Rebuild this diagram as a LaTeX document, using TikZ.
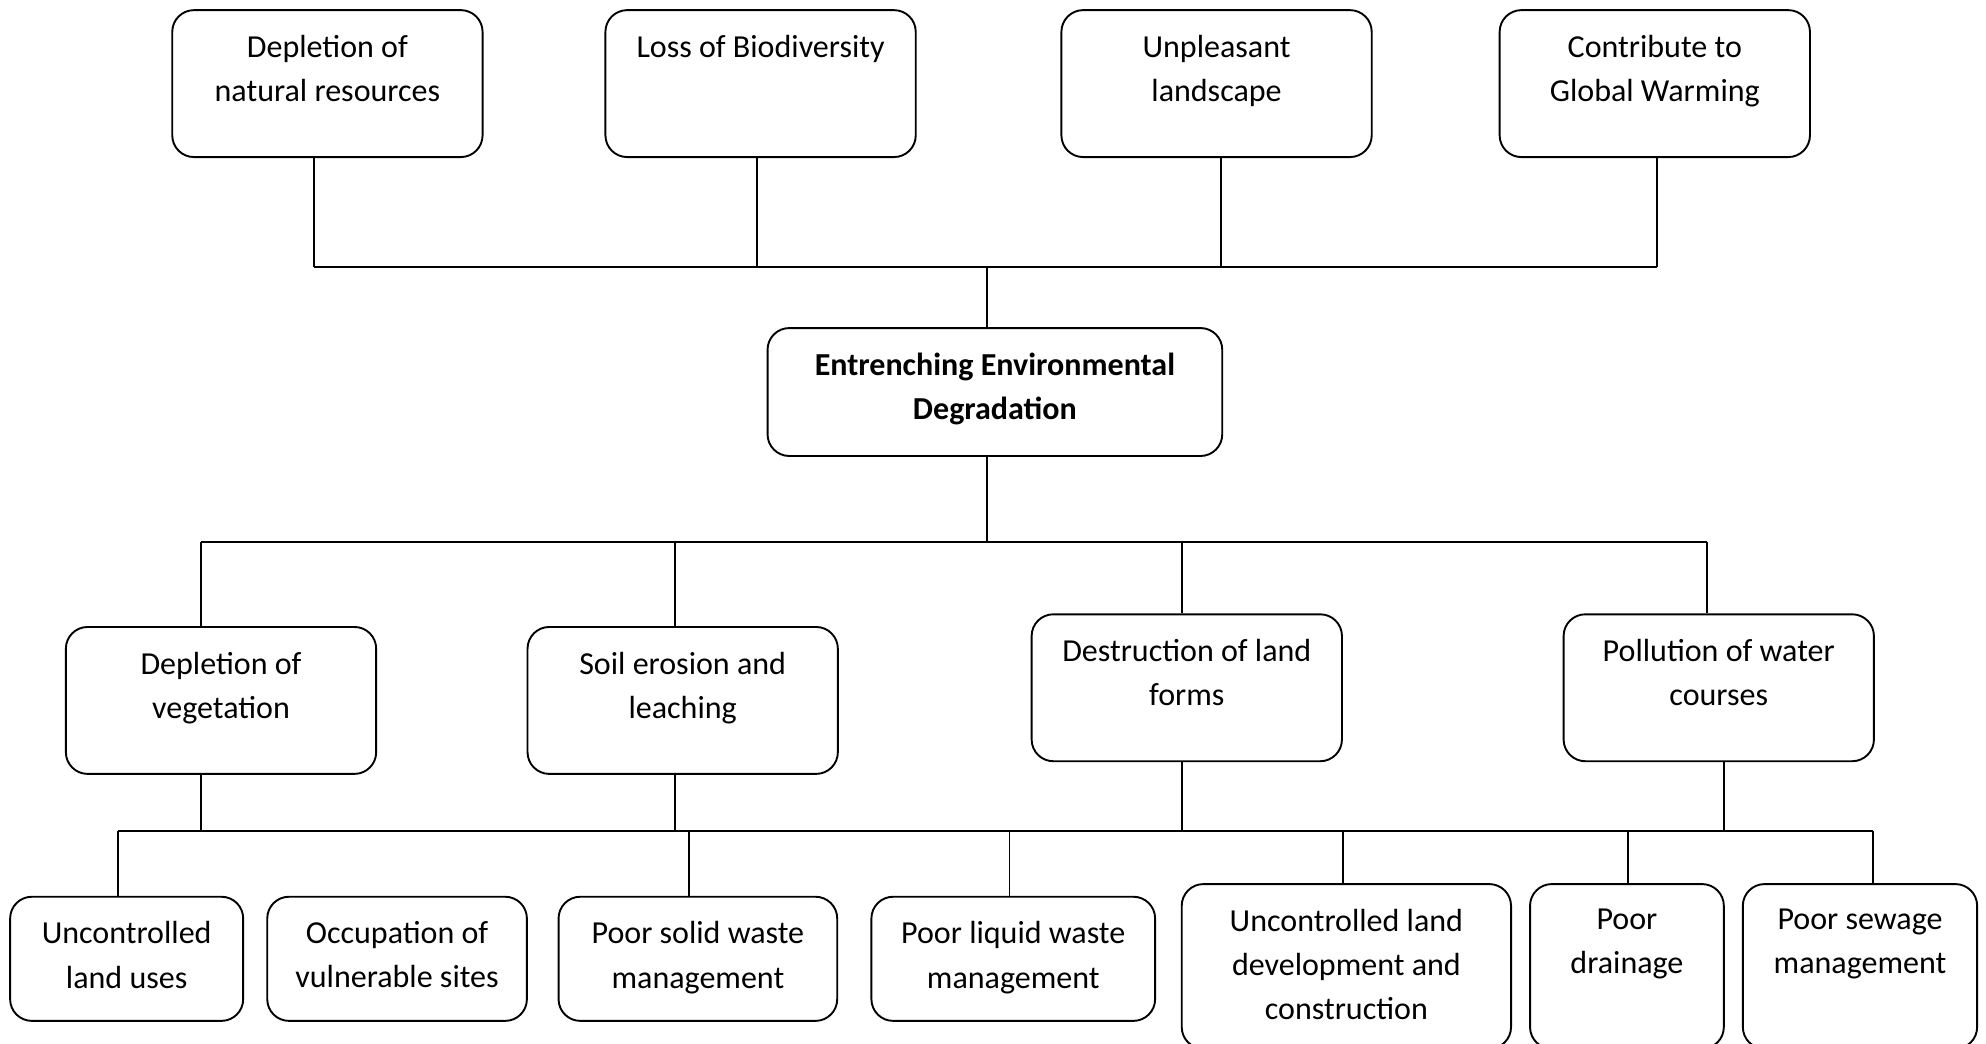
\documentclass[tikz,border=0pt]{standalone}
\usepackage{fontspec}
\setmainfont{Carlito}
\newdimen\px \px=0.0164cm
\tikzset{
	box/.style={rectangle, rounded corners=8pt, draw=black, line width=0.7pt, inner sep=0pt, minimum width=245\px, minimum height=116\px},
	txt/.style={anchor=north, align=center, inner sep=0pt, yshift=-9.3pt, font=\fontsize{11.8}{16.3}\selectfont},
	boldtxt/.style={txt, font=\fontsize{11.8}{16.3}\selectfont\bfseries},
	link/.style={draw=black, line width=0.7pt},
}
\begin{document}
\begin{tikzpicture}[x=0.0164cm, y=-0.0164cm]
			\useasboundingbox (0,0) rectangle (1568,824);

			% effects
			\node[box, label={[txt]north:Depletion of\\natural resources}](natResBox) at (258.5,66){};
			\node[box, label={[txt]north:Loss of Biodiversity}](bioBox) at (600.5,66){};
			\node[box, label={[txt]north:Unpleasant\\landscape}](landscapeBox) at (960.5,66){};
			\node[box, label={[txt]north:Contribute to\\Global Warming}](warmingBox) at (1306.5,66){};

			% core problem
			\node[box, minimum width=359\px, minimum height=101\px, label={[boldtxt]north:Entrenching Environmental\\Degradation}](degradBox) at (785.5,309.5){};

			% direct causes
			\node[box, label={[txt]north:Depletion of\\vegetation}](vegBox) at (174.5,553){};
			\node[box, label={[txt]north:Soil erosion and\\leaching}](soilBox) at (539,553){};
			\node[box, label={[txt]north:Destruction of land\\forms}](landformBox) at (937,543){};
			\node[box, label={[txt]north:Pollution of water\\courses}](waterBox) at (1357,543){};

			% root causes
			\node[box, minimum width=184\px, minimum height=98\px, label={[txt]north:Uncontrolled\\land uses}](landUseBox) at (100,757){};
			\node[box, minimum width=205\px, minimum height=98\px, label={[txt]north:Occupation of\\vulnerable sites}](sitesBox) at (313.5,757){};
			\node[box, minimum width=220\px, minimum height=98\px, label={[txt]north:Poor solid waste\\management}](solidBox) at (551,757){};
			\node[box, minimum width=224\px, minimum height=98\px, label={[txt]north:Poor liquid waste\\management}](liquidBox) at (800,757){};
			\node[box, minimum width=260\px, minimum height=130\px, label={[txt]north:Uncontrolled land\\development and\\construction}](devBox) at (1063,763){};
			\node[box, minimum width=153\px, minimum height=130\px, label={[txt]north:Poor\\drainage}](drainBox) at (1284.5,763){};
			\node[box, minimum width=185\px, minimum height=130\px, label={[txt]north:Poor sewage\\management}](sewageBox) at (1468.5,763){};

			% bus points
			\coordinate (topBus1) at (248,211);
			\coordinate (topBus2) at (598,211);
			\coordinate (topBus3) at (964,211);
			\coordinate (topBus4) at (1308,211);
			\coordinate (topBus0) at (779,211);
			\coordinate (midBus0) at (779,428);
			\coordinate (midBus1) at (159,428);
			\coordinate (midBus2) at (533,428);
			\coordinate (midBus3) at (933,428);
			\coordinate (midBus4) at (1348,428);
			\coordinate (lowBusA) at (159,656);
			\coordinate (lowBusB) at (533,656);
			\coordinate (lowBusC) at (933,656);
			\coordinate (lowBusD) at (1361,656);
			\coordinate (lowBus1) at (93,656);
			\coordinate (lowBus2) at (544,656);
			\coordinate (lowBus3) at (797,656);
			\coordinate (lowBus4) at (1060,656);
			\coordinate (lowBus5) at (1285,656);
			\coordinate (lowBus6) at (1479,656);

			% effects to core
			\draw[link] (natResBox.south -| topBus1) -- (topBus1);
			\draw[link] (bioBox.south -| topBus2) -- (topBus2);
			\draw[link] (landscapeBox.south -| topBus3) -- (topBus3);
			\draw[link] (warmingBox.south -| topBus4) -- (topBus4);
			\draw[link] (topBus1) -- (topBus4);
			\draw[link] (topBus0) -- (degradBox.north -| topBus0);

			% core to direct causes
			\draw[link] (degradBox.south -| midBus0) -- (midBus0);
			\draw[link] (midBus1) -- (midBus4);
			\draw[link] (midBus1) -- (vegBox.north -| midBus1);
			\draw[link] (midBus2) -- (soilBox.north -| midBus2);
			\draw[link] (midBus3) -- (landformBox.north -| midBus3);
			\draw[link] (midBus4) -- (waterBox.north -| midBus4);

			% direct causes to root causes
			\draw[link] (vegBox.south -| lowBusA) -- (lowBusA);
			\draw[link] (soilBox.south -| lowBusB) -- (lowBusB);
			\draw[link] (landformBox.south -| lowBusC) -- (lowBusC);
			\draw[link] (waterBox.south -| lowBusD) -- (lowBusD);
			\draw[link] (lowBus1) -- (lowBus6);
			\draw[link] (lowBus1) -- (landUseBox.north -| lowBus1);
			\draw[link] (lowBus2) -- (solidBox.north -| lowBus2);
			\draw[link] (lowBus3) -- (liquidBox.north -| lowBus3);
			\draw[link] (lowBus4) -- (devBox.north -| lowBus4);
			\draw[link] (lowBus5) -- (drainBox.north -| lowBus5);
			\draw[link] (lowBus6) -- (sewageBox.north -| lowBus6);
\end{tikzpicture}
\end{document}
